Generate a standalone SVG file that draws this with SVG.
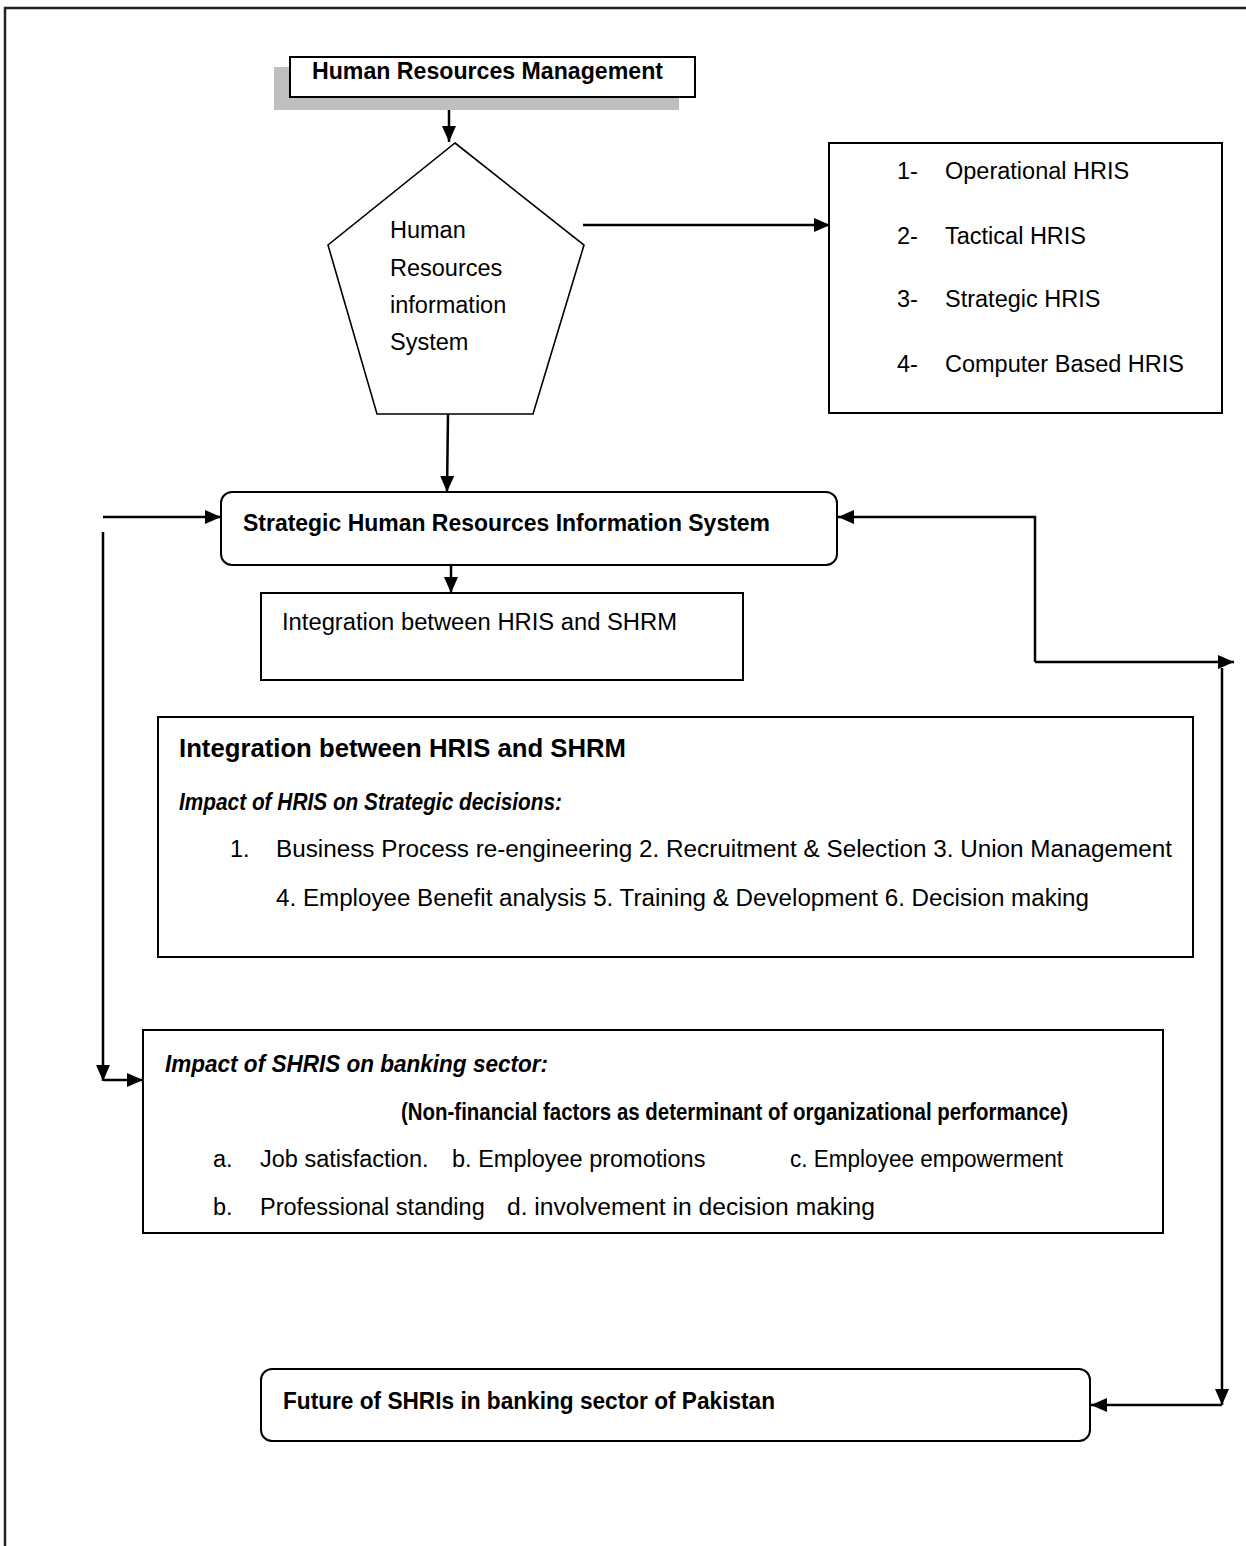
<svg xmlns="http://www.w3.org/2000/svg" width="1246" height="1546" viewBox="0 0 1246 1546">
<style>
  text { font-family: "Liberation Sans", Arial, sans-serif; fill: #000; }
  .r { font-size: 23.5px; }
  .b { font-size: 23px; font-weight: bold; }
  .bi { font-size: 23px; font-weight: bold; font-style: italic; }
  .t { font-size: 25.5px; font-weight: bold; }
  .box { fill: #fff; stroke: #000; stroke-width: 2; }
  .con { fill: none; stroke: #000; stroke-width: 2.5; }
</style>
<defs>
  <marker id="ah" viewBox="0 0 16 14" refX="16" refY="7" markerWidth="16" markerHeight="14" markerUnits="userSpaceOnUse" orient="auto">
    <path d="M0,0 L16,7 L0,14 z" fill="#000"/>
  </marker>
</defs>
<rect x="0" y="0" width="1246" height="1546" fill="#fff"/>
<g id="frame">
  <path d="M5,1546 L5,8 L1246,8" fill="none" stroke="#222" stroke-width="2.5"/>
</g>

<g id="connectors">
  <path class="con" d="M449,97 L449,142" marker-end="url(#ah)"/>
  <path class="con" d="M583,225 L830,225" marker-end="url(#ah)"/>
  <path class="con" d="M448,414 L447,492" marker-end="url(#ah)"/>
  <path class="con" d="M451,565 L451,593" marker-end="url(#ah)"/>
  <path class="con" d="M103,517 L221,517" marker-end="url(#ah)"/>
  <path class="con" d="M1035,662 L1035,517 L838,517" marker-end="url(#ah)"/>
  <path class="con" d="M1035,662 L1234,662" marker-end="url(#ah)"/>
  <path class="con" d="M1222,668 L1222,1405" marker-end="url(#ah)"/>
  <path class="con" d="M1222,1405 L1091,1405" marker-end="url(#ah)"/>
  <path class="con" d="M103,532 L103,1081" marker-end="url(#ah)"/>
  <path class="con" d="M103,1080 L143,1080" marker-end="url(#ah)"/>
</g>

<g id="hrm">
  <rect x="274" y="67" width="405" height="43" fill="#bfbfbf"/>
  <rect class="box" x="290" y="57" width="405" height="40"/>
  <text class="b" x="312" y="79" textLength="351" lengthAdjust="spacingAndGlyphs">Human Resources Management</text>
</g>

<g id="hris">
  <polygon points="455,143 584,245 533,414 377,414 328,245" fill="#fff" stroke="#000" stroke-width="1.6"/>
  <text class="r" x="390" y="238">Human</text>
  <text class="r" x="390" y="276">Resources</text>
  <text class="r" x="390" y="313">information</text>
  <text class="r" x="390" y="350">System</text>
</g>

<g id="types">
  <rect class="box" x="829" y="143" width="393" height="270"/>
  <text class="r" x="897" y="179">1-</text><text class="r" x="945" y="179">Operational HRIS</text>
  <text class="r" x="897" y="244">2-</text><text class="r" x="945" y="244">Tactical HRIS</text>
  <text class="r" x="897" y="307">3-</text><text class="r" x="945" y="307">Strategic HRIS</text>
  <text class="r" x="897" y="372">4-</text><text class="r" x="945" y="372">Computer Based HRIS</text>
</g>

<g id="shris">
  <rect class="box" x="221" y="492" width="616" height="73" rx="11"/>
  <text class="b" x="243" y="531" textLength="527" lengthAdjust="spacingAndGlyphs">Strategic Human Resources Information System</text>
</g>

<g id="integration-small">
  <rect class="box" x="261" y="593" width="482" height="87"/>
  <text class="r" x="282" y="630" textLength="395" lengthAdjust="spacingAndGlyphs">Integration between HRIS and SHRM</text>
</g>

<g id="integration">
  <rect class="box" x="158" y="717" width="1035" height="240"/>
  <text class="t" x="179" y="757" textLength="447" lengthAdjust="spacingAndGlyphs">Integration between HRIS and SHRM</text>
  <text class="bi" x="179" y="810" textLength="383" lengthAdjust="spacingAndGlyphs">Impact of HRIS on Strategic decisions:</text>
  <text class="r" x="230" y="857">1.</text>
  <text class="r" x="276" y="857" textLength="896" lengthAdjust="spacingAndGlyphs">Business Process re-engineering 2. Recruitment &amp; Selection 3. Union Management</text>
  <text class="r" x="276" y="906" textLength="813" lengthAdjust="spacingAndGlyphs">4. Employee Benefit analysis 5. Training &amp; Development 6. Decision making</text>
</g>

<g id="banking">
  <rect class="box" x="143" y="1030" width="1020" height="203"/>
  <text class="bi" x="165" y="1072" textLength="383" lengthAdjust="spacingAndGlyphs">Impact of SHRIS on banking sector:</text>
  <text class="b" x="401" y="1120" textLength="667" lengthAdjust="spacingAndGlyphs">(Non-financial factors as determinant of organizational performance)</text>
  <text class="r" x="213" y="1167">a.</text>
  <text class="r" x="260" y="1167">Job satisfaction.</text>
  <text class="r" x="452" y="1167">b. Employee promotions</text>
  <text class="r" x="790" y="1167" textLength="273" lengthAdjust="spacingAndGlyphs">c. Employee empowerment</text>
  <text class="r" x="213" y="1215">b.</text>
  <text class="r" x="260" y="1215">Professional standing</text>
  <text class="r" x="507" y="1215" textLength="368" lengthAdjust="spacingAndGlyphs">d. involvement in decision making</text>
</g>

<g id="future">
  <rect class="box" x="261" y="1369" width="829" height="72" rx="11"/>
  <text class="b" x="283" y="1409" textLength="492" lengthAdjust="spacingAndGlyphs">Future of SHRIs in banking sector of Pakistan</text>
</g>
</svg>
